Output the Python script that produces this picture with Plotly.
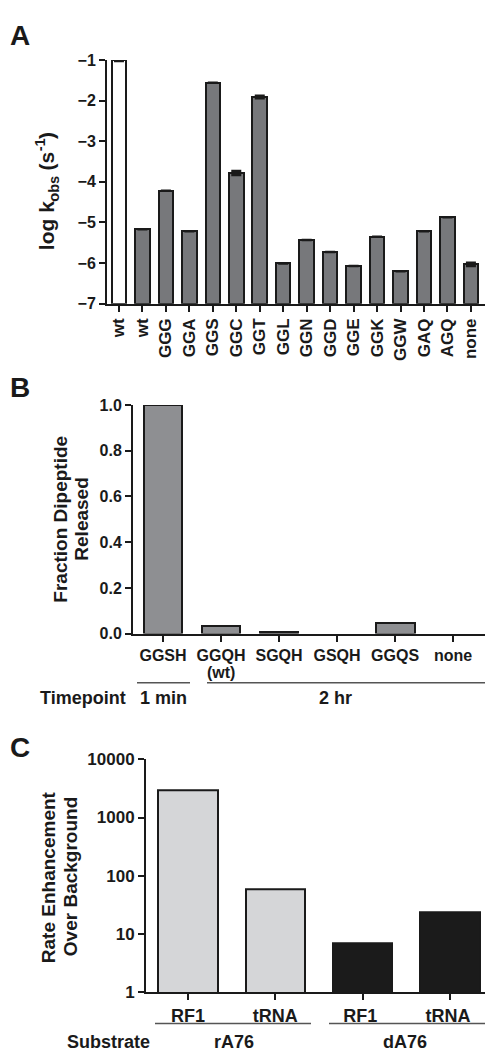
import plotly.graph_objects as go

W, H = 485, 1061
FONT = "Liberation Sans"

# ---------- data ----------
a_labels = ["wt", "wt", "GGG", "GGA", "GGS", "GGC", "GGT", "GGL", "GGN", "GGD",
            "GGE", "GGK", "GGW", "GAQ", "AGQ", "none"]
a_values = [-1.0, -5.17, -4.22, -5.22, -1.56, -3.78, -1.91, -6.01, -5.43, -5.73,
            -6.07, -5.35, -6.20, -5.22, -4.87, -6.03]
a_errors = [0.02, 0, 0, 0, 0, 0.05, 0.03, 0, 0, 0, 0, 0, 0, 0, 0, 0.04]
a_ticks = [-1, -2, -3, -4, -5, -6, -7]

b_labels = ["GGSH", "GGQH", "SGQH", "GSQH", "GGQS", "none"]
b_notes = ["", "(wt)", "", "", "", ""]
b_values = [1.0, 0.035, 0.006, 0.0, 0.047, 0.0]
b_ticks = [0.0, 0.2, 0.4, 0.6, 0.8, 1.0]

c_labels = ["RF1", "tRNA", "RF1 ", "tRNA "]
c_values = [2900, 58, 7, 23.5]
c_ticks = [1, 10, 100, 1000, 10000]


def px(x):
    return x / W


def py(y):
    return 1 - y / H


fig = go.Figure()

# Panel A
a_colors = ["white"] + ["#77787b"] * (len(a_values) - 1)
fig.add_trace(go.Bar(
    x=list(range(len(a_labels))), y=[v - a_ticks[-1] for v in a_values], base=a_ticks[-1],
    marker=dict(color=a_colors, line=dict(color="#1a1a1a", width=2)),
    width=0.62,
    error_y=dict(type="data", array=a_errors, color="#1a1a1a", thickness=2.5, width=5),
    xaxis="x", yaxis="y", showlegend=False,
))

# Panel B
fig.add_trace(go.Bar(
    x=list(range(len(b_labels))), y=b_values,
    marker=dict(color="#8e8f92",
                line=dict(color="#1a1a1a", width=[2 if v > 0 else 0 for v in b_values])),
    width=0.67, xaxis="x2", yaxis="y2", showlegend=False,
))

# Panel C
fig.add_trace(go.Bar(
    x=list(range(len(c_labels))), y=c_values,
    marker=dict(color=["#d5d6d8", "#d5d6d8", "#1b1b1b", "#1b1b1b"],
                line=dict(color="#1a1a1a", width=2)),
    width=0.68, xaxis="x3", yaxis="y3", showlegend=False,
))

axis_common = dict(showline=True, linewidth=2, linecolor="#1a1a1a", ticks="outside",
                   ticklen=6, tickwidth=2, tickcolor="#1a1a1a", showgrid=False,
                   zeroline=False, mirror=False)


def minus(t):
    return str(t).replace("-", "\u2212")


fig.update_layout(
    width=W, height=H, margin=dict(l=0, r=0, t=0, b=0),
    paper_bgcolor="white", plot_bgcolor="white",
    font=dict(family=FONT, color="#1a1a1a"),
    bargap=0,
    xaxis=dict(domain=[px(107), 1], range=[-0.51, 15.6], anchor="y",
               tickmode="array", tickvals=list(range(len(a_labels))), ticktext=a_labels,
               tickangle=-90, tickfont=dict(size=17, weight="bold"), **axis_common),
    yaxis=dict(domain=[py(300), py(52)], range=[-7, -1], anchor="x",
               tickmode="array", tickvals=a_ticks, ticktext=[minus(t) for t in a_ticks],
               tickfont=dict(size=16, weight="bold"), **axis_common),
    xaxis2=dict(domain=[px(133), 1], range=[-0.517, 5.55], anchor="y2",
                tickmode="array", tickvals=list(range(len(b_labels))), ticktext=b_labels,
                tickfont=dict(size=16, weight="bold"), **axis_common),
    yaxis2=dict(domain=[py(636), py(403.3)], range=[0, 1], anchor="x2",
                tickmode="array", tickvals=b_ticks, ticktext=[f"{t:.1f}" for t in b_ticks],
                tickfont=dict(size=16, weight="bold"), **axis_common),
    xaxis3=dict(domain=[px(146), 1], range=[-0.48, 3.4], anchor="y3",
                tickmode="array", tickvals=list(range(len(c_labels))), ticktext=c_labels,
                tickfont=dict(size=18, weight="bold"), **axis_common),
    yaxis3=dict(domain=[py(1001), py(764)], type="log", range=[0, 4], anchor="x3",
                tickmode="array", tickvals=c_ticks, ticktext=[str(t) for t in c_ticks],
                tickfont=dict(size=17, weight="bold"), **axis_common),
)

ann = []


def text(x, y, s, size, xanchor="center", angle=0, xref="paper", xval=None):
    ann.append(dict(x=px(x) if xval is None else xval, y=py(y), xref=xref, yref="paper",
                    text=s, showarrow=False, xanchor=xanchor, yanchor="middle",
                    textangle=angle,
                    font=dict(size=size, family=FONT, color="#1a1a1a", weight="bold")))


text(20, 27, "A", 28)
text(20, 385, "B", 28)
text(20, 752, "C", 28)

# Panel A axis title "log k_obs (s^-1)", composed of pieces (rotated, reads upward)
main, small = 21, 14.7
pieces = [("log k", main, 0, 2.334), ("obs", small, +1, 1.778), (None, main, 0, 0.278),
          ("(s", main, 0, 0.889), ("-1", small, -1, 0.889), (")", main, 0, 0.333)]
base_x = 54
total = sum(sz * em for _, sz, _, em in pieces)
pos = 185 + total / 2
for s, sz, shift, em in pieces:
    w = sz * em
    if s is not None:
        if shift == 0:
            bl = base_x
        elif shift > 0:
            bl = base_x + 0.3 * sz
        else:
            bl = base_x - 0.6 * sz
        text(bl - 0.3465 * sz, pos - w / 2, s, sz, angle=-90)
    pos -= w

text(61, 520, "Fraction Dipeptide", 19, angle=-90)
text(82, 520, "Released", 19, angle=-90)
text(48, 884, "Rate Enhancement", 19, angle=-90)
text(70, 884, "Over Background", 19, angle=-90)

# secondary notes under panel-B tick labels
for i, note in enumerate(b_notes):
    if note:
        text(0, 676, note, 16, xref="x2", xval=i)

text(128, 702, "Timepoint", 18, xanchor="right")
text(163, 702, "1 min", 18)
text(335, 702, "2 hr", 18)

text(152, 1052, "Substrate", 18, xanchor="right")
text(234, 1052, "rA76", 18)
text(405, 1052, "dA76", 18)

fig.update_layout(annotations=ann)

shapes = []
for x0, x1, y in [(137, 190, 686), (207, 485, 686), (155, 311, 1033), (329, 485, 1033)]:
    shapes.append(dict(type="line", xref="paper", yref="paper", x0=px(x0), x1=px(x1),
                       y0=py(y), y1=py(y), line=dict(color="#555555", width=1.5)))
fig.update_layout(shapes=shapes)

fig.write_html("out.html")
